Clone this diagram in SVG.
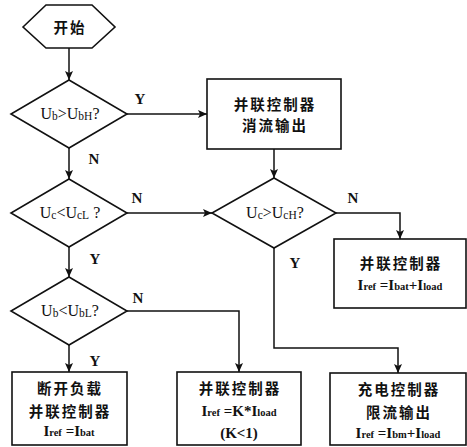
<svg xmlns="http://www.w3.org/2000/svg" width="467" height="447" viewBox="0 0 467 447">
<style>
.s{fill:#fff;stroke:#111;stroke-width:1.6}
.c{fill:none;stroke:#111;stroke-width:1.5}
.cn{font-family:"Noto Sans CJK SC","Noto Sans CJK JP",sans-serif;font-weight:bold;font-size:14.5px;letter-spacing:2px;fill:#111;text-anchor:middle}
.m{font-family:"Liberation Serif",serif;font-size:16px;fill:#111;text-anchor:middle}
.f{font-family:"Liberation Serif",serif;font-weight:bold;font-size:15px;fill:#111;text-anchor:middle}
.m .sub{font-size:11.5px}
.f .sub{font-size:10.5px}
.yn{font-family:"Liberation Serif",serif;font-weight:bold;font-size:15px;fill:#111;text-anchor:middle}
</style>
<defs>
<marker id="a" markerUnits="userSpaceOnUse" markerWidth="12" markerHeight="10" refX="9" refY="4" orient="auto">
<path d="M0,0 L9,4 L0,8 L2,4 Z" fill="#111"/>
</marker>
</defs>
<g id="connectors">
<path class="c" d="M69,48 V80" marker-end="url(#a)"/>
<path class="c" d="M127,114 H207" marker-end="url(#a)"/>
<path class="c" d="M69,148 V179" marker-end="url(#a)"/>
<path class="c" d="M274,149 V178" marker-end="url(#a)"/>
<path class="c" d="M127,213 H212" marker-end="url(#a)"/>
<path class="c" d="M336,213 H400 V239" marker-end="url(#a)"/>
<path class="c" d="M69,247 V277" marker-end="url(#a)"/>
<path class="c" d="M127,311 H239 V372" marker-end="url(#a)"/>
<path class="c" d="M274,248 V348 H398 V373" marker-end="url(#a)"/>
<path class="c" d="M69,345 V372" marker-end="url(#a)"/>
<text class="yn" x="140" y="104">Y</text>
<text class="yn" x="94" y="164">N</text>
<text class="yn" x="137" y="203">N</text>
<text class="yn" x="95" y="264">Y</text>
<text class="yn" x="138" y="303">N</text>
<text class="yn" x="95" y="366">Y</text>
<text class="yn" x="353" y="203">N</text>
<text class="yn" x="295" y="268">Y</text>
</g>
<g id="start">
<polygon class="s" points="23,27 46,5 92,5 115,27 92,48 46,48"/>
<text class="cn" x="70" y="33">开始</text>
</g>
<g id="d1">
<polygon class="s" points="69,80 127,114 69,148 11,114"/>
<text class="m" x="70" y="119">U<tspan class="sub" dy="1">b</tspan><tspan dy="-1">&gt;U</tspan><tspan class="sub" dy="1">bH</tspan><tspan dy="-1">?</tspan></text>
</g>
<g id="d2">
<polygon class="s" points="69,179 127,213 69,247 11,213"/>
<text class="m" x="70" y="218">U<tspan class="sub" dy="1">c</tspan><tspan dy="-1">&lt;U</tspan><tspan class="sub" dy="1">cL</tspan><tspan dy="-1"> ?</tspan></text>
</g>
<g id="d3">
<polygon class="s" points="69,277 127,311 69,345 11,311"/>
<text class="m" x="70" y="316">U<tspan class="sub" dy="1">b</tspan><tspan dy="-1">&lt;U</tspan><tspan class="sub" dy="1">bL</tspan><tspan dy="-1">?</tspan></text>
</g>
<g id="d4">
<polygon class="s" points="274,178 336,213 274,248 212,213"/>
<text class="m" x="275" y="218">U<tspan class="sub" dy="1">c</tspan><tspan dy="-1">&gt;U</tspan><tspan class="sub" dy="1">cH</tspan><tspan dy="-1">?</tspan></text>
</g>
<g id="b1">
<rect class="s" x="207" y="79" width="134" height="70"/>
<text class="cn" x="275" y="110">并联控制器</text>
<text class="cn" x="275" y="131">消流输出</text>
</g>
<g id="b2">
<rect class="s" x="334" y="239" width="132" height="69"/>
<text class="cn" x="401" y="269">并联控制器</text>
<text class="f" x="400" y="290">I<tspan class="sub">ref</tspan> =I<tspan class="sub">bat</tspan>+I<tspan class="sub">load</tspan></text>
</g>
<g id="b3">
<rect class="s" x="12" y="372" width="115" height="73"/>
<text class="cn" x="70" y="394">断开负载</text>
<text class="cn" x="70" y="417">并联控制器</text>
<text class="f" x="69" y="436">I<tspan class="sub">ref</tspan> =I<tspan class="sub">bat</tspan></text>
</g>
<g id="b4">
<rect class="s" x="177" y="372" width="124" height="73"/>
<text class="cn" x="240" y="394">并联控制器</text>
<text class="f" x="239" y="416">I<tspan class="sub">ref</tspan> =K*I<tspan class="sub">load</tspan></text>
<text class="f" x="239" y="438">(K&lt;1)</text>
</g>
<g id="b5">
<rect class="s" x="330" y="373" width="136" height="72"/>
<text class="cn" x="399" y="395">充电控制器</text>
<text class="cn" x="399" y="418">限流输出</text>
<text class="f" x="398" y="438">I<tspan class="sub">ref</tspan> =I<tspan class="sub">bm</tspan>+I<tspan class="sub">load</tspan></text>
</g>
</svg>
